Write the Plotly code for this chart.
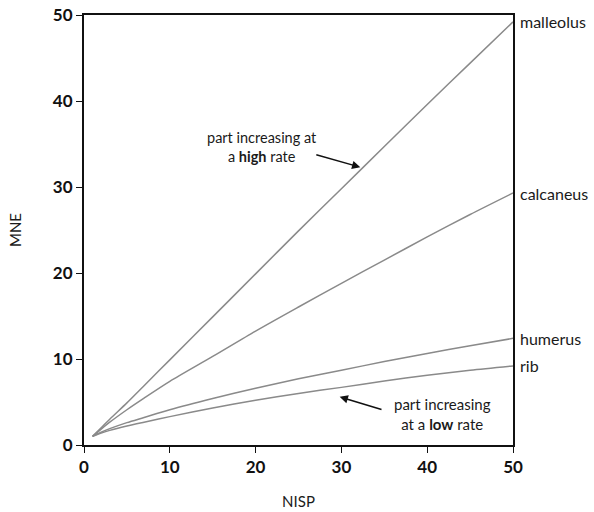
import plotly.graph_objects as go

nisp = [1, 2, 3, 5, 7, 10, 15, 20, 25, 30, 35, 40, 45, 50]
malleolus = [1.0, 2.0, 3.0, 4.9, 6.9, 9.9, 14.9, 19.9, 24.9, 29.8, 34.7, 39.6, 44.4, 49.2]
calcaneus = [1.0, 1.85, 2.65, 4.1, 5.45, 7.4, 10.3, 13.25, 16.05, 18.8, 21.5, 24.2, 26.8, 29.3]
humerus = [1.0, 1.5, 1.9, 2.6, 3.2, 4.1, 5.4, 6.6, 7.7, 8.7, 9.7, 10.65, 11.55, 12.4]
rib = [1.0, 1.4, 1.7, 2.2, 2.65, 3.3, 4.3, 5.2, 6.0, 6.7, 7.45, 8.1, 8.7, 9.2]
series = [("malleolus", malleolus), ("calcaneus", calcaneus), ("humerus", humerus), ("rib", rib)]

x_ticks = [0, 10, 20, 30, 40, 50]
y_ticks = [0, 10, 20, 30, 40, 50]

FONT = "Lato"
TXT = "#1a1a1a"
fig = go.Figure()
for name, vals in series:
    fig.add_trace(go.Scatter(x=nisp, y=vals, mode="lines", name=name,
                             line=dict(color="#8a8a8a", width=1.5, shape="spline", smoothing=0.8),
                             showlegend=False, hoverinfo="skip"))

annotations = []
for name, vals in series:
    annotations.append(dict(x=nisp[-1], y=vals[-1], xref="x", yref="y", text=name,
                            showarrow=False, xanchor="left", yanchor="middle", xshift=5,
                            font=dict(family=FONT, size=16, color=TXT)))

annotations += [
    dict(x=20.7, y=34.6, xref="x", yref="y", text="part increasing at<br>a <b>high</b> rate",
         showarrow=False, align="center", font=dict(family=FONT, size=14.5, color=TXT)),
    dict(x=32.2, y=32.3, xref="x", yref="y", ax=26.9, ay=33.8, axref="x", ayref="y", text="",
         showarrow=True, arrowhead=2, arrowsize=1.1, arrowwidth=1.5, arrowcolor="#111"),
    dict(x=41.8, y=3.55, xref="x", yref="y", text="part increasing<br>at a <b>low</b> rate",
         showarrow=False, align="center", font=dict(family=FONT, size=15, color=TXT)),
    dict(x=29.8, y=5.6, xref="x", yref="y", ax=34.85, ay=4.07, axref="x", ayref="y", text="",
         showarrow=True, arrowhead=2, arrowsize=1.1, arrowwidth=1.5, arrowcolor="#111"),
]

axis_common = dict(showline=True, linecolor="#111", linewidth=2, mirror=True,
                   ticks="outside", ticklen=6, tickwidth=1.2, tickcolor="#111",
                   showgrid=False, zeroline=False, automargin=False,
                   ticklabeloverflow="allow",
                   tickfont=dict(family=FONT, size=17, color="#111", weight=700))

fig.update_layout(
    width=594, height=512,
    margin=dict(l=84, r=81, t=15, b=67),
    plot_bgcolor="white", paper_bgcolor="white",
    xaxis=dict(range=[0, 50], tickvals=x_ticks,
               title=dict(text="NISP", font=dict(family=FONT, size=15, color=TXT), standoff=20),
               **axis_common),
    yaxis=dict(range=[0, 50], tickvals=y_ticks,
               title=dict(text="MNE", font=dict(family=FONT, size=15, color=TXT), standoff=28),
               **axis_common),
    annotations=annotations,
)

# remove the page's default 8px body margin so the 594x512 figure fills the window
fig.write_html("out.html", config={"displayModeBar": False},
               post_script="document.body.style.margin='0px';")
